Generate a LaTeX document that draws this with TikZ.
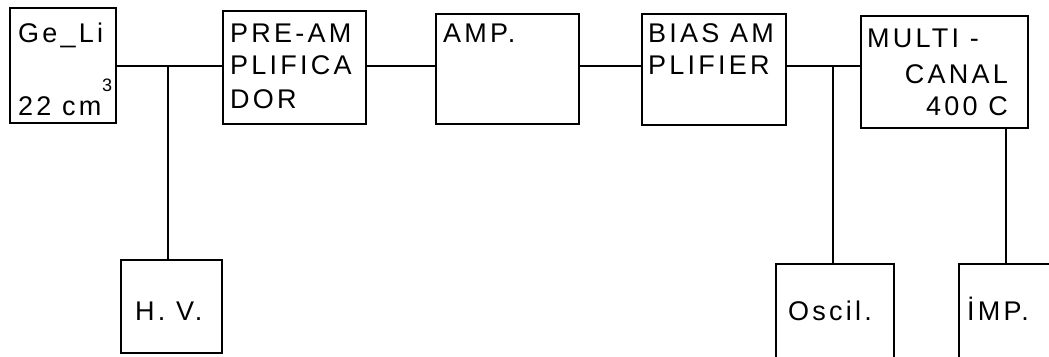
\documentclass[tikz,border=0pt]{standalone}
\usepackage{fontspec}
\setmainfont{Liberation Sans}[LetterSpace=12]
\begin{document}
\begin{tikzpicture}[x=1pt,y=-1pt,
  box/.style={draw,line width=2.4pt,inner sep=0pt,anchor=north west},
  wire/.style={line width=1.8pt},
  lbl/.style={inner sep=0pt,anchor=base west,font=\fontsize{27}{30}\selectfont},
  sup/.style={inner sep=0pt,anchor=base west,font=\fontsize{18}{18}\selectfont}]
\useasboundingbox (0,0) rectangle (1049,356);
% boxes
\node[box,minimum width=106pt,minimum height=115pt] (geli) at (9,7) {};
\node[box,minimum width=143pt,minimum height=113pt] (pre) at (222,10) {};
\node[box,minimum width=143pt,minimum height=110pt] (amp) at (435,13) {};
\node[box,minimum width=144pt,minimum height=111pt] (bias) at (641,13) {};
\node[box,minimum width=167pt,minimum height=112pt] (multi) at (860,15) {};
\node[box,minimum width=101pt,minimum height=93pt] (hv) at (120,259) {};
\node[box,minimum width=118pt,minimum height=96pt] (osc) at (775,263) {};
\node[box,minimum width=110pt,minimum height=96pt] (imp) at (958,263) {};
% labels
\node[lbl] (t1) at (18,42) {Ge\_Li};
\node[lbl] (t2) at (18,115) {22 cm};
\node[sup] (t2s) at (102,91) {3};
\node[lbl] (t3) at (230,42) {PRE-AM};
\node[lbl] (t4) at (230,74) {PLIFICA};
\node[lbl] (t5) at (230,108) {DOR};
\node[lbl] (t6) at (443,42) {AMP.};
\node[lbl] (t7) at (648,42) {BIAS AM};
\node[lbl] (t8) at (648,74) {PLIFIER};
\node[lbl] (t9) at (867,47) {MULTI -};
\node[lbl,anchor=base east] (t10) at (1008,83) {CANAL};
\node[lbl,anchor=base east] (t11) at (1008,115) {400 C};
\node[lbl] (t12) at (135,320) {H. V.};
\node[lbl] (t13) at (788,320) {Oscil.};
\node[lbl] (t14) at (967,320) {İMP.};
% junctions
\coordinate (j1) at (168,66);
\coordinate (j2) at (833,66);
\coordinate (j3) at (1006,66);
% wires
\draw[wire] (geli.east |- j1) -- (pre.west |- j1);
\draw[wire] (pre.east |- j1) -- (amp.west |- j1);
\draw[wire] (amp.east |- j1) -- (bias.west |- j1);
\draw[wire] (bias.east |- j2) -- (multi.west |- j2);
\draw[wire] (j1) -- (j1 |- hv.north);
\draw[wire] (j2) -- (j2 |- osc.north);
\draw[wire] (j3 |- multi.south) -- (j3 |- imp.north);
\end{tikzpicture}
\end{document}
